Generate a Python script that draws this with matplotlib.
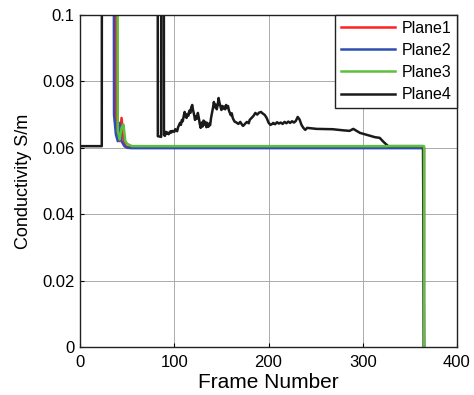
import numpy as np
import matplotlib.pyplot as plt

plt.rcParams['font.family'] = ['Liberation Sans', 'DejaVu Sans']

# Plane1..3 come down from off-scale values around frame 35-40
p1_frames = [0, 37, 38, 40, 42, 44, 46, 48, 52, 365, 365]
p1_vals = [0.3, 0.3, 0.068, 0.063, 0.062, 0.069, 0.063, 0.0605, 0.0602, 0.0602, 0]

p2_frames = [0, 35, 36, 38, 40, 42, 44, 47, 50, 55, 365, 365]
p2_vals = [0.3, 0.3, 0.07, 0.064, 0.062, 0.0675, 0.062, 0.0605, 0.060, 0.0599, 0.0599, 0]

p3_frames = [0, 39, 40, 42, 44, 46, 48, 50, 55, 365, 365]
p3_vals = [0.3, 0.3, 0.065, 0.0625, 0.066, 0.067, 0.062, 0.0612, 0.0605, 0.0605, 0]

# Plane4 as (frame, value) pairs
p4_points = [
    (0, 0.0605), (23, 0.0605), (23.5, 0.3), (82, 0.3), (82.5, 0.0635), (86, 0.0633),
    (86.5, 0.3), (88.5, 0.3), (89, 0.0639), (90, 0.0636), (91, 0.0648), (92, 0.0642),
    (93, 0.0646), (94, 0.0641), (95, 0.0645), (96, 0.0650), (97, 0.0646), (98, 0.0651),
    (100, 0.0648), (101, 0.0656), (103, 0.0650), (104, 0.0662), (105, 0.0668),
    (106, 0.0675), (107, 0.0669), (108, 0.0684), (109, 0.0680), (110, 0.0696),
    (111, 0.0708), (112, 0.0695), (113, 0.0690), (114, 0.0702), (115, 0.0697),
    (116, 0.0712), (117, 0.0705), (118, 0.0722), (119, 0.0729), (120, 0.0712),
    (121, 0.0700), (122, 0.0684), (123, 0.0695), (124, 0.0688), (125, 0.0705),
    (126, 0.0690), (127, 0.0672), (128, 0.0660), (129, 0.0676), (130, 0.0664),
    (131, 0.0682), (132, 0.0670), (133, 0.0678), (134, 0.0662), (135, 0.0675),
    (136, 0.0663), (137, 0.0672), (138, 0.0668), (139, 0.0690), (140, 0.0705),
    (141, 0.0720), (142, 0.0738), (143, 0.0722), (144, 0.0730), (145, 0.0716),
    (146, 0.0728), (147, 0.0750), (148, 0.0735), (149, 0.0724), (150, 0.0714),
    (151, 0.0726), (152, 0.0718), (153, 0.0724), (154, 0.0716), (155, 0.0729),
    (156, 0.0720), (157, 0.0726), (158, 0.0712), (159, 0.0705), (160, 0.0698),
    (161, 0.0704), (162, 0.0690), (163, 0.0684), (164, 0.0679), (166, 0.0676),
    (168, 0.0672), (170, 0.0678), (172, 0.0669), (173, 0.0666), (175, 0.0672),
    (177, 0.0678), (179, 0.0674), (180, 0.0684), (182, 0.0690), (184, 0.0696),
    (186, 0.0705), (188, 0.0700), (190, 0.0706), (192, 0.0708), (194, 0.0703),
    (196, 0.0699), (198, 0.0690), (200, 0.0676), (202, 0.0669), (204, 0.0672),
    (205, 0.0675), (207, 0.0671), (209, 0.0677), (211, 0.0673), (213, 0.0676),
    (215, 0.0672), (217, 0.0678), (219, 0.0674), (221, 0.0679), (223, 0.0675),
    (225, 0.0680), (227, 0.0676), (229, 0.0681), (231, 0.0693), (233, 0.0685),
    (235, 0.0669), (237, 0.0660), (239, 0.0654), (241, 0.0660), (244, 0.0659),
    (251, 0.0657), (268, 0.0656), (278, 0.0653), (286, 0.0651), (290, 0.0657),
    (297, 0.0645), (303, 0.0640), (308, 0.0636), (313, 0.0632), (318, 0.0630),
    (322, 0.0618), (327, 0.0605), (364, 0.0605), (365, 0),
]
p4_frames = [f for f, v in p4_points]
p4_vals = [v for f, v in p4_points]

fig = plt.figure(figsize=(4.74, 3.95), dpi=100)
ax = fig.add_axes([0.169, 0.1215, 0.795, 0.8405])

lw = 1.8
ax.plot(p1_frames, p1_vals, color='#ff2020', lw=lw, label='Plane1')
ax.plot(p2_frames, p2_vals, color='#2f4fb0', lw=lw, label='Plane2')
ax.plot(p4_frames, p4_vals, color='#1a1a1a', lw=lw, label='Plane4')
ax.plot(p3_frames, p3_vals, color='#5cc03c', lw=lw, label='Plane3')

ax.set_xlim(0, 400)
ax.set_ylim(0, 0.1)
ax.set_xticks([0, 100, 200, 300, 400])
ax.set_yticks([0, 0.02, 0.04, 0.06, 0.08, 0.1])
ax.set_yticklabels(['0', '0.02', '0.04', '0.06', '0.08', '0.1'])
ax.grid(True, color='#aaaaaa', lw=0.7)
ax.set_axisbelow(True)
ax.tick_params(direction='in', labelsize=12, length=3)
ax.tick_params(axis='x', pad=6)
ax.tick_params(axis='y', pad=4)
for s in ax.spines.values():
    s.set_linewidth(1.0)
    s.set_color('#222222')

ax.set_xlabel('Frame Number', fontsize=15, labelpad=2)
ax.set_ylabel('Conductivity S/m', fontsize=13, labelpad=7)

h, l = ax.get_legend_handles_labels()
order = [0, 1, 3, 2]
leg = ax.legend([h[i] for i in order], [l[i] for i in order], loc='upper right',
                fontsize=11.5, handlelength=3.4, fancybox=False, framealpha=1,
                borderaxespad=0, labelspacing=0.45, handletextpad=0.4,
                borderpad=0.35)
leg.get_frame().set_edgecolor('#222222')
leg.get_frame().set_linewidth(1.0)

fig.savefig('out.png', dpi=100)
